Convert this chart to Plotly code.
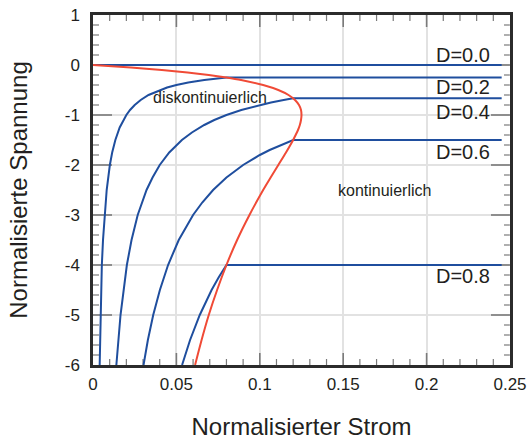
import numpy as np
import plotly.graph_objects as go

# ---- data ----
x_tickvals = [0, 0.05, 0.1, 0.15, 0.2, 0.25]
x_ticktext = ["0", "0.05", "0.1", "0.15", "0.2", "0.25"]
y_tickvals = [1, 0, -1, -2, -3, -4, -5, -6]
y_ticktext = ["1", "0", "-1", "-2", "-3", "-4", "-5", "-6"]
x_minor_step = 0.01
y_minor_step = 0.2

d_labels = ["D=0.0", "D=0.2", "D=0.4", "D=0.6", "D=0.8"]

d00_i = [0.0, 0.245]
d00_v = [0.0, 0.0]

d02_i = [0.0040, 0.0045, 0.0053, 0.0060, 0.0069, 0.0082, 0.0101, 0.0115, 0.0134, 0.0160,
         0.0200, 0.0222, 0.0250, 0.0286, 0.0333, 0.0400, 0.0444, 0.0500, 0.0571, 0.0667,
         0.0727, 0.0800, 0.245]
d02_v = [-6.0, -5.0, -4.0, -3.5, -3.0, -2.5, -2.0, -1.75, -1.5, -1.25,
         -1.0, -0.9, -0.8, -0.7, -0.6, -0.5, -0.45, -0.4, -0.35, -0.3,
         -0.275, -0.25, -0.25]

d04_i = [0.0140, 0.0165, 0.0203, 0.0231, 0.0268, 0.0321, 0.0357, 0.0400, 0.0457, 0.0533,
         0.0593, 0.0667, 0.0727, 0.0800, 0.0889, 0.1000, 0.1067, 0.1143, 0.1200, 0.245]
d04_v = [-6.0, -5.0, -4.0, -3.5, -3.0, -2.5, -2.25, -2.0, -1.75, -1.5,
         -1.35, -1.2, -1.1, -1.0, -0.9, -0.8, -0.75, -0.7, -0.667, -0.667]

d06_i = [0.0303, 0.0329, 0.0361, 0.0401, 0.0450, 0.0514, 0.0600, 0.0655, 0.0720, 0.0800,
         0.0900, 0.0947, 0.1000, 0.1059, 0.1125, 0.1200, 0.245]
d06_v = [-6.0, -5.5, -5.0, -4.5, -4.0, -3.5, -3.0, -2.75, -2.5, -2.25,
         -2.0, -1.9, -1.8, -1.7, -1.6, -1.5, -1.5]

d08_i = [0.0534, 0.0582, 0.0640, 0.0674, 0.0711, 0.0753, 0.0800, 0.245]
d08_v = [-6.0, -5.5, -5.0, -4.75, -4.5, -4.25, -4.0, -4.0]

border_i = [0.0, 0.0227, 0.0413, 0.0567, 0.0694, 0.0800, 0.0888, 0.1020, 0.1111, 0.1172,
            0.1211, 0.1235, 0.1247, 0.1250, 0.1247, 0.1240, 0.1229, 0.1215, 0.1200, 0.1157,
            0.1111, 0.1065, 0.1020, 0.0938, 0.0864, 0.0800, 0.0744, 0.0694, 0.0651, 0.0612]
border_v = [0.0, -0.05, -0.1, -0.15, -0.2, -0.25, -0.3, -0.4, -0.5, -0.6,
            -0.7, -0.8, -0.9, -1.0, -1.1, -1.2, -1.3, -1.4, -1.5, -1.75,
            -2.0, -2.25, -2.5, -3.0, -3.5, -4.0, -4.5, -5.0, -5.5, -6.0]

# ---- styling ----
BLUE = "#1f4e9e"
RED = "#f04a36"
FONT = "Liberation Sans, Arial, Helvetica, sans-serif"
TXT = "#231f20"
TICK = "#7a7a7a"

W, H = 531, 440
ML, MR, MT, MB = 93, 21, 15, 75
x_lo, x_hi = x_tickvals[0], x_tickvals[-1]
y_lo, y_hi = min(y_tickvals), max(y_tickvals)
x_per_px = (x_hi - x_lo) / (W - ML - MR)
y_per_px = (y_hi - y_lo) / (H - MT - MB)

fig = go.Figure()

# ---- inside tick marks on all four sides, drawn as thin line traces ----
x_major_inner = x_tickvals[1:-1]
y_major_inner = [v for v in y_tickvals if y_lo < v < y_hi]
x_minor = [round(v, 4) for v in np.arange(x_lo, x_hi, x_minor_step)
           if min(abs(v - t) for t in x_tickvals) > 1e-6]
y_minor = [round(v, 4) for v in np.arange(y_lo, y_hi, y_minor_step)
           if min(abs(v - t) for t in y_tickvals) > 1e-6]


def x_tick_segments(vals, length_px):
    xs, ys = [], []
    dy = length_px * y_per_px
    for v in vals:
        xs += [v, v, None, v, v, None]
        ys += [y_lo, y_lo + dy, None, y_hi, y_hi - dy, None]
    return xs, ys


def y_tick_segments(vals, length_px):
    xs, ys = [], []
    dx = length_px * x_per_px
    for v in vals:
        xs += [x_lo, x_lo + dx, None, x_hi, x_hi - dx, None]
        ys += [v, v, None, v, v, None]
    return xs, ys


for (xs, ys), w in [(x_tick_segments(x_major_inner, 12), 1.6),
                    (x_tick_segments(x_minor, 6), 1.2),
                    (y_tick_segments(y_major_inner, 19), 1.6),
                    (y_tick_segments(y_minor, 6), 1.2)]:
    fig.add_trace(go.Scatter(x=xs, y=ys, mode="lines", connectgaps=False,
                             line=dict(color=TICK, width=w), hoverinfo="skip",
                             cliponaxis=False))

# ---- curves ----
for xs, ys in [(d00_i, d00_v), (d02_i, d02_v), (d04_i, d04_v), (d06_i, d06_v), (d08_i, d08_v)]:
    fig.add_trace(go.Scatter(x=xs, y=ys, mode="lines",
                             line=dict(color=BLUE, width=2), hoverinfo="skip"))
fig.add_trace(go.Scatter(x=border_i, y=border_v, mode="lines",
                         line=dict(color=RED, width=2, shape="spline", smoothing=0.6),
                         hoverinfo="skip"))

label_pos = [(0.2218, 0.20), (0.2218, -0.44), (0.2218, -0.946), (0.2218, -1.734), (0.2218, -4.22)]
for txt, (lx, ly) in zip(d_labels, label_pos):
    fig.add_annotation(x=lx, y=ly, text=txt, showarrow=False,
                       font=dict(family=FONT, size=20, color=TXT))
fig.add_annotation(x=0.0701, y=-0.654, text="diskontinuierlich", showarrow=False,
                   font=dict(family=FONT, size=16, color=TXT))
fig.add_annotation(x=0.1745, y=-2.5, text="kontinuierlich", showarrow=False,
                   font=dict(family=FONT, size=16, color=TXT))

fig.update_xaxes(
    range=[x_lo, x_hi], tickmode="array", tickvals=x_tickvals, ticktext=x_ticktext,
    ticks="", ticklabelstandoff=2,
    showline=True, linecolor="#2b2b2b", linewidth=2.5, mirror=True,
    showgrid=True, gridcolor="#e2e2e2", gridwidth=1.5, zeroline=False,
    tickfont=dict(family=FONT, size=17, color=TXT),
    title=dict(text="Normalisierter Strom", font=dict(family=FONT, size=24, color=TXT),
               standoff=30),
)
fig.update_yaxes(
    range=[y_lo, y_hi], tickmode="array", tickvals=y_tickvals, ticktext=y_ticktext,
    ticks="", ticklabelstandoff=7,
    showline=True, linecolor="#2b2b2b", linewidth=2.5, mirror=True,
    showgrid=True, gridcolor="#e2e2e2", gridwidth=1.5, zeroline=False,
    tickfont=dict(family=FONT, size=17, color=TXT),
    title=dict(text="Normalisierte Spannung", font=dict(family=FONT, size=24, color=TXT),
               standoff=31),
)

fig.update_layout(
    template="none",
    width=W, height=H,
    margin=dict(l=ML, r=MR, t=MT, b=MB, autoexpand=False),
    plot_bgcolor="white", paper_bgcolor="white",
    showlegend=False,
    font=dict(family=FONT, color=TXT),
)

fig.write_html("out.html", config={"displayModeBar": False},
               post_script="document.body.style.margin='0';document.body.style.padding='0';")
